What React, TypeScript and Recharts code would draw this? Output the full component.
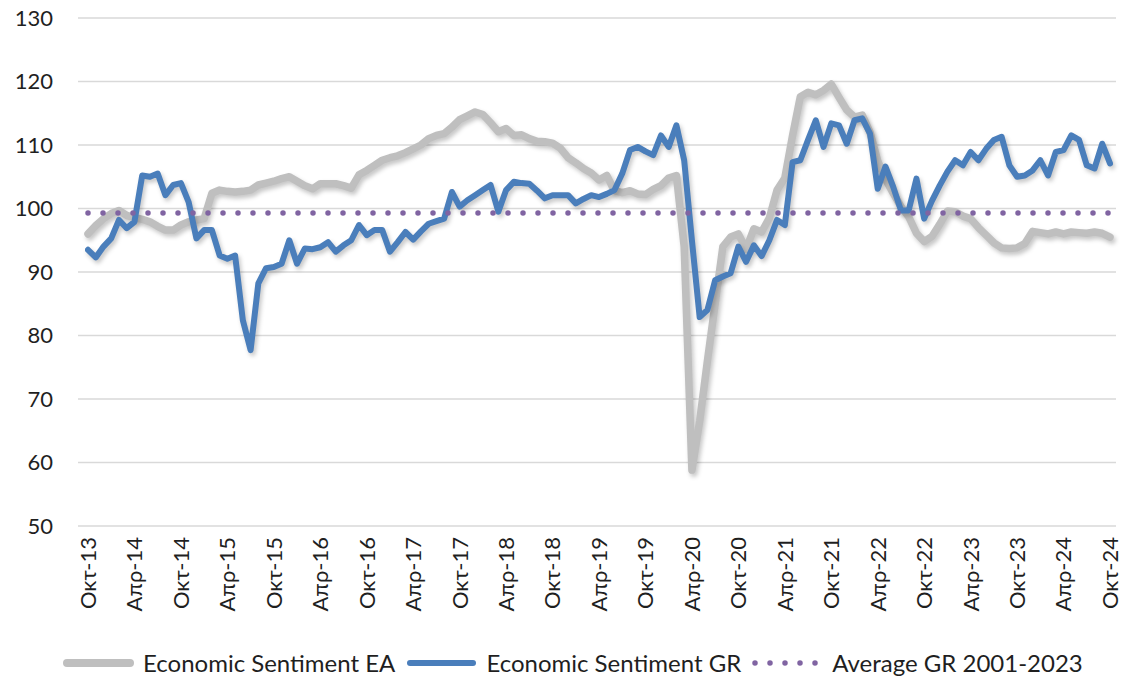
import { LineChart, Line, XAxis, YAxis, CartesianGrid, Legend } from "recharts";

// Greek month abbreviations for the category axis
const MONTHS = ["Ιαν", "Φεβ", "Μαρ", "Απρ", "Μαϊ", "Ιουν", "Ιουλ", "Αυγ", "Σεπ", "Οκτ", "Νοε", "Δεκ"];
const START_YEAR = 2013;
const START_MONTH = 9; // Oct

// Economic Sentiment EA, Oct-13 .. Oct-24
const ESI_EA = [
  96.0, 97.3, 98.4, 99.2, 99.7, 98.9, 98.6, 98.3, 97.9, 97.2, 96.6, 96.6,
  97.4, 97.9, 98.2, 98.4, 102.4, 102.9, 102.7, 102.6, 102.7, 102.9, 103.7, 104.0,
  104.3, 104.7, 105.0, 104.3, 103.6, 103.1, 103.9, 103.9, 103.9, 103.6, 103.2, 105.3,
  106.0, 106.8, 107.6, 108.0, 108.3, 108.8, 109.4, 110.0, 111.0, 111.5, 111.8, 112.8,
  114.0, 114.6, 115.2, 114.8, 113.5, 112.1, 112.6, 111.5, 111.6, 111.0, 110.6, 110.5,
  110.3, 109.5, 108.0, 107.2, 106.3, 105.6, 104.5, 105.2, 102.8, 102.5, 102.8, 102.3,
  102.2, 103.0, 103.6, 104.8, 105.2, 94.0, 58.8, 66.5, 76.0, 85.0, 94.0, 95.5,
  96.0, 93.6, 96.8, 96.3, 98.5, 102.9, 104.8, 111.5, 117.6, 118.3, 117.9, 118.6,
  119.6, 117.5, 115.5, 114.4, 114.7, 112.0, 107.5, 104.6, 102.4, 100.3, 98.7, 96.1,
  94.8, 95.6, 97.5, 99.6, 99.5, 98.8, 98.4, 97.0, 95.8, 94.6, 93.8, 93.7,
  93.8, 94.5, 96.4, 96.2, 96.0, 96.3, 96.0, 96.3, 96.2, 96.1, 96.3, 96.1,
  95.5,
];

// Economic Sentiment GR
const ESI_GR = [
  93.5, 92.3, 94.0, 95.3, 98.2, 96.9, 97.9, 105.2, 105.0, 105.5, 102.1, 103.7,
  104.0, 101.0, 95.3, 96.6, 96.6, 92.6, 92.1, 92.6, 82.4, 77.7, 88.2, 90.6,
  90.8, 91.3, 95.0, 91.3, 93.7, 93.6, 93.9, 94.7, 93.2, 94.2, 95.0, 97.4,
  95.8, 96.6, 96.6, 93.2, 94.7, 96.3, 95.1, 96.4, 97.6, 98.0, 98.4, 102.6,
  100.3, 101.3, 102.1, 102.9, 103.7, 99.5, 102.9, 104.2, 104.0, 103.9, 102.8, 101.6,
  102.1, 102.1, 102.1, 100.8, 101.5, 102.1, 101.8, 102.3, 102.9, 105.5, 109.2, 109.7,
  109.0, 108.4, 111.5, 109.7, 113.1, 107.6, 95.0, 82.9, 84.0, 88.7, 89.3, 89.8,
  94.0, 91.6, 94.2, 92.5, 95.0, 98.2, 97.4, 107.3, 107.6, 110.8, 113.9, 109.7,
  113.4, 113.1, 110.2, 113.9, 114.2, 111.8, 103.1, 106.6, 103.4, 99.7, 99.7, 104.7,
  98.4, 101.2, 103.6, 105.8, 107.6, 106.8, 108.9, 107.6, 109.4, 110.8, 111.3, 106.8,
  105.0, 105.2, 106.0, 107.6, 105.2, 108.9, 109.2, 111.5, 110.8, 106.8, 106.3, 110.2,
  107.1,
];

const AVG_GR = 99.3; // Average GR 2001-2023
const Y_TICKS = [50, 60, 70, 80, 90, 100, 110, 120, 130];

const COLORS = { ea: "#BFBFBF", gr: "#4A7EBB", avg: "#8064A2", text: "#1F1F1F", grid: "#D9D9D9" };

const categories = ESI_EA.map((_, i) => {
  const m = (START_MONTH + i) % 12;
  const y = START_YEAR + Math.floor((START_MONTH + i) / 12);
  return `${MONTHS[m]}-${String(y).slice(2)}`;
});

const data = categories.map((month, i) => ({
  month,
  ea: ESI_EA[i],
  gr: ESI_GR[i],
  avg: AVG_GR,
}));

function MonthTick(props: { x?: number; y?: number; payload?: { value: string } }) {
  const { x = 0, y = 0, payload } = props;
  return (
    <text
      x={x}
      y={y}
      transform={`rotate(-90, ${x}, ${y})`}
      textAnchor="end"
      dy="0.36em"
      fontSize={22}
      fill={COLORS.text}
    >
      {payload?.value}
    </text>
  );
}

const LEGEND_ITEMS = [
  { label: "Economic Sentiment EA", color: COLORS.ea, width: 8, dotted: false },
  { label: "Economic Sentiment GR", color: COLORS.gr, width: 6, dotted: false },
  { label: "Average GR 2001-2023", color: COLORS.avg, width: 5.5, dotted: true },
];

function LegendRow() {
  return (
    <div style={{ display: "flex", alignItems: "center", paddingLeft: 63, fontSize: 24, color: COLORS.text }}>
      {LEGEND_ITEMS.map((it) => (
        <div key={it.label} style={{ display: "flex", alignItems: "center", marginRight: 11 }}>
          <svg width={72} height={14}>
            <line
              x1={it.dotted ? 3 : 4}
              x2={it.dotted ? 64 : 67}
              y1={7}
              y2={7}
              stroke={it.color}
              strokeWidth={it.width}
              strokeLinecap="round"
              strokeDasharray={it.dotted ? "0 15" : undefined}
            />
          </svg>
          <span style={{ marginLeft: 8, whiteSpace: "nowrap" }}>{it.label}</span>
        </div>
      ))}
    </div>
  );
}

export default function App() {
  return (
    <div style={{ position: "absolute", left: 0, top: 0, width: 1122, height: 689, background: "#fff", fontFamily: "Lato, 'Open Sans', sans-serif" }}>
      <style>{`.ln-shadow .recharts-line-curve { filter: drop-shadow(2px 3px 2px rgba(0,0,0,0.22)); }`}</style>
      <LineChart width={1122} height={689} data={data} margin={{ top: 18, right: 6, bottom: 0, left: 0 }}>
        <CartesianGrid vertical={false} stroke={COLORS.grid} strokeWidth={1.5} />
        <XAxis
          dataKey="month"
          interval={5}
          tick={<MonthTick />}
          tickLine={false}
          axisLine={false}
          tickSize={0}
          tickMargin={11}
          height={163}
          padding={{ left: 10, right: 6 }}
        />
        <YAxis
          domain={[50, 130]}
          ticks={Y_TICKS}
          tick={{ fill: COLORS.text, fontSize: 22 }}
          tickLine={false}
          axisLine={false}
          tickSize={0}
          tickMargin={25}
          width={78}
          interval={0}
        />
        <Legend
          verticalAlign="middle"
          align="center"
          layout="horizontal"
          wrapperStyle={{ top: 648, left: 0, width: 1122 }}
          content={() => <LegendRow />}
        />
        <Line
          className="ln-shadow"
          type="linear"
          dataKey="ea"
          name="Economic Sentiment EA"
          stroke={COLORS.ea}
          strokeWidth={7.5}
          strokeLinejoin="round"
          strokeLinecap="round"
          dot={false}
          isAnimationActive={false}
        />
        <Line
          className="ln-shadow"
          type="linear"
          dataKey="gr"
          name="Economic Sentiment GR"
          stroke={COLORS.gr}
          strokeWidth={6}
          strokeLinejoin="round"
          strokeLinecap="round"
          dot={false}
          isAnimationActive={false}
        />
        <Line
          type="linear"
          dataKey="avg"
          name="Average GR 2001-2023"
          stroke={COLORS.avg}
          strokeWidth={5.5}
          strokeLinecap="round"
          strokeDasharray="0 15"
          dot={false}
          isAnimationActive={false}
        />
      </LineChart>
    </div>
  );
}
